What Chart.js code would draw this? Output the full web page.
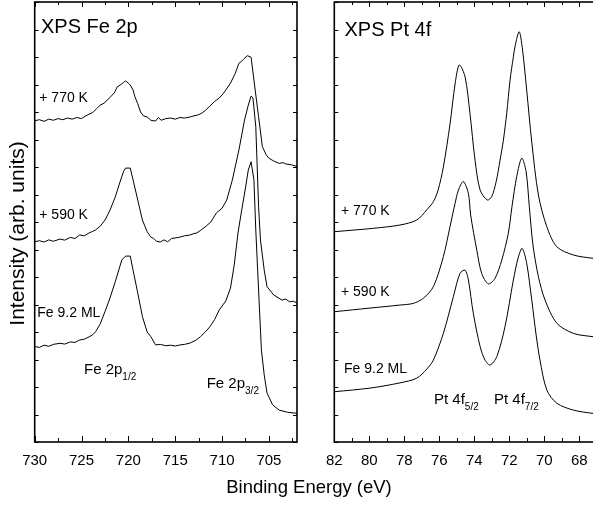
<!DOCTYPE html>
<html>
<head>
<meta charset="utf-8">
<script src="https://cdn.jsdelivr.net/npm/chart.js@4.4.1/dist/chart.umd.min.js"></script>
<style>
html,body{margin:0;padding:0;width:593px;height:507px;overflow:hidden;background:#fff;}
body{position:relative;font-family:"Liberation Sans",Arial,sans-serif;color:#000;}
canvas{position:absolute;top:0;}
.t{position:absolute;white-space:nowrap;line-height:1;font-family:"Liberation Sans",Arial,sans-serif;color:#000;}
.s{font-size:10px;position:relative;top:6px;}
</style>
</head>
<body>
<canvas id="fe" width="300" height="507" style="left:0"></canvas>
<canvas id="pt" width="310" height="507" style="left:300px"></canvas>

<div class="t" style="left:41px;top:15.6px;font-size:20px">XPS Fe 2p</div>
<div class="t" style="left:39.3px;top:90.1px;font-size:14px">+ 770 K</div>
<div class="t" style="left:39.3px;top:206.6px;font-size:14px">+ 590 K</div>
<div class="t" style="left:37.3px;top:304.6px;font-size:14px">Fe 9.2 ML</div>
<div class="t" style="left:84px;top:360.5px;font-size:15px">Fe 2p<span class="s">1/2</span></div>
<div class="t" style="left:206.7px;top:374.8px;font-size:15px">Fe 2p<span class="s">3/2</span></div>

<div class="t" style="left:344.5px;top:19px;font-size:20px">XPS Pt 4f</div>
<div class="t" style="left:341px;top:202.7px;font-size:14px">+ 770 K</div>
<div class="t" style="left:341px;top:284.1px;font-size:14px">+ 590 K</div>
<div class="t" style="left:344px;top:360.7px;font-size:14px">Fe 9.2 ML</div>
<div class="t" style="left:434px;top:391.3px;font-size:15px">Pt 4f<span class="s">5/2</span></div>
<div class="t" style="left:494px;top:391.3px;font-size:15px">Pt 4f<span class="s">7/2</span></div>

<div class="t" style="left:159px;top:478px;width:300px;text-align:center;font-size:18.5px">Binding Energy (eV)</div>
<div class="t" style="left:-108.6px;top:223px;width:250px;height:21px;text-align:center;font-size:21px;transform:rotate(-90deg)">Intensity (arb. units)</div>

<script>
// ---------- data: [binding energy (eV), intensity (arb. units, offset)] ----------
const fe770 = [[730.0,11.68],[729.5,11.72],[729.0,11.66],[728.5,11.74],[728.0,11.70],[727.5,11.76],[727.0,11.72],[726.5,11.78],[726.0,11.74],[725.5,11.80],[725.0,11.76],[724.6,11.85],[724.2,11.92],[723.8,11.98],[723.4,12.12],[723.0,12.25],[722.6,12.32],[722.2,12.45],[721.9,12.55],[721.5,12.70],[721.2,12.91],[720.8,13.00],[720.5,13.08],[720.3,13.13],[720.0,13.05],[719.8,12.98],[719.5,12.80],[719.3,12.55],[719.0,12.30],[718.7,12.00],[718.4,11.86],[718.0,11.82],[717.6,11.70],[717.1,11.67],[716.8,11.80],[716.5,11.70],[716.0,11.76],[715.5,11.78],[715.0,11.74],[714.5,11.80],[714.0,11.78],[713.4,11.82],[713.0,11.86],[712.6,11.89],[712.2,11.95],[711.8,12.05],[711.3,12.22],[710.8,12.38],[710.3,12.51],[709.9,12.66],[709.6,12.80],[709.1,13.05],[708.6,13.40],[708.2,13.77],[707.9,13.85],[707.7,13.92],[707.3,14.05],[706.9,13.99],[706.6,13.16],[706.1,11.83],[705.7,10.74],[705.3,10.45],[705.0,10.32],[704.5,10.22],[703.9,10.13],[703.5,10.16],[703.2,10.11],[702.6,10.08],[701.9,10.01]];
const fe590 = [[730.0,7.28],[729.5,7.32],[729.0,7.27],[728.5,7.35],[728.0,7.30],[727.3,7.38],[726.8,7.34],[726.2,7.44],[725.7,7.40],[725.2,7.53],[724.7,7.50],[724.2,7.60],[723.8,7.66],[723.5,7.71],[723.0,7.85],[722.5,8.07],[722.0,8.40],[721.4,8.91],[720.9,9.45],[720.5,9.85],[720.3,9.96],[719.8,9.96],[719.5,9.53],[719.0,8.80],[718.5,8.07],[718.0,7.65],[717.6,7.45],[717.3,7.40],[717.0,7.30],[716.6,7.27],[716.2,7.35],[715.8,7.28],[715.4,7.40],[715.0,7.42],[714.5,7.45],[714.0,7.50],[713.5,7.52],[713.0,7.58],[712.7,7.60],[712.2,7.72],[711.7,7.85],[711.2,8.00],[710.6,8.33],[710.0,8.50],[709.5,8.80],[708.9,9.53],[708.2,10.62],[707.6,11.71],[707.2,12.25],[706.9,12.58],[706.7,12.51],[706.4,11.47],[706.1,8.56],[705.9,7.35],[705.5,6.25],[705.2,5.65],[704.5,5.35],[703.6,5.16],[703.2,5.20],[702.8,5.10],[702.4,5.12],[701.9,5.04]];
const fe92ML = [[730.0,3.47],[729.5,3.44],[729.0,3.52],[728.5,3.48],[728.0,3.55],[727.3,3.59],[726.8,3.56],[726.2,3.64],[725.7,3.62],[725.2,3.71],[724.7,3.74],[724.2,3.82],[723.8,3.90],[723.5,4.01],[723.0,4.30],[722.5,4.74],[722.0,5.20],[721.4,5.83],[720.7,6.62],[720.3,6.76],[719.8,6.76],[719.5,6.25],[719.0,5.42],[718.5,4.56],[718.0,4.00],[717.6,3.83],[717.1,3.53],[716.6,3.55],[716.0,3.50],[715.5,3.52],[715.0,3.49],[714.5,3.53],[714.0,3.55],[713.4,3.60],[712.8,3.70],[712.3,3.83],[711.8,4.00],[711.3,4.19],[710.8,4.45],[710.3,4.80],[709.6,5.13],[709.1,5.60],[708.7,6.44],[708.3,7.60],[707.9,8.44],[707.5,9.24],[707.2,9.89],[706.9,10.19],[706.6,9.53],[706.4,7.71],[706.2,6.25],[706.0,4.80],[705.8,3.35],[705.5,2.44],[705.2,1.78],[704.6,1.35],[703.9,1.16],[703.0,1.08],[701.9,1.04]];

const pt770 = [[81.96,7.65],[79.77,7.77],[78.25,7.89],[77.29,8.07],[76.72,8.44],[76.34,8.74],[76.07,9.16],[75.77,10.0],[75.39,11.56],[75.10,13.02],[74.86,13.71],[74.53,13.28],[74.25,11.95],[73.96,10.25],[73.67,9.16],[73.26,8.80],[73.01,8.92],[72.76,9.45],[72.53,10.25],[72.34,10.98],[72.15,11.95],[71.96,13.16],[71.77,14.01],[71.67,14.40],[71.44,14.92],[71.26,14.33],[71.01,12.80],[70.72,10.91],[70.34,8.98],[69.86,7.83],[69.29,7.10],[68.34,6.80],[67.22,6.68],[66.65,6.65]];
const pt590 = [[81.96,4.74],[79.96,4.87],[78.25,4.98],[77.49,5.04],[76.91,5.23],[76.34,5.65],[75.77,6.74],[75.39,7.83],[75.10,8.68],[74.91,9.16],[74.63,9.47],[74.34,9.04],[74.21,8.25],[73.86,6.98],[73.58,6.13],[73.20,5.75],[72.82,5.95],[72.43,6.62],[72.06,7.59],[71.85,8.56],[71.58,9.65],[71.29,10.32],[71.04,9.82],[70.86,8.56],[70.65,7.16],[70.34,6.01],[69.96,5.16],[69.29,4.32],[68.34,3.95],[67.22,3.83],[66.65,3.80]];
const pt92ML = [[81.96,1.83],[79.96,1.96],[78.25,2.15],[77.29,2.32],[76.72,2.65],[76.34,2.98],[75.77,3.95],[75.20,5.28],[74.82,6.13],[74.53,6.25],[74.34,5.89],[74.06,4.68],[73.67,3.47],[73.39,2.98],[73.10,2.80],[72.72,3.10],[72.25,4.19],[71.77,5.89],[71.50,6.69],[71.27,7.04],[71.01,6.50],[70.72,5.16],[70.47,3.89],[70.25,2.98],[69.86,1.89],[69.29,1.41],[68.34,1.16],[67.22,1.04],[66.65,1.02]];

// tick labels
const feTicks = [730,725,720,715,710,705];
const feMinor = [727.5,722.5,717.5,712.5,707.5,702.5];
const ptTicks = [82,80,78,76,74,72,70,68];
const ptMinor = [81,79,77,75,73,71,69,67];
const yTicks = [0,1,2,3,4,5,6,7,8,9,10,11,12,13,14,15,16];

const toXY = arr => arr.map(p => ({x:p[0], y:p[1]}));

const frameTicks = {
  id:'frameTicks',
  afterDatasetsDraw(chart, args, opts){
    const {ctx, chartArea:a} = chart;
    const x = chart.scales.x, y = chart.scales.y;
    ctx.save();
    ctx.strokeStyle = '#000';
    ctx.lineWidth = 1;
    ctx.beginPath();
    opts.major.forEach(v=>{
      const p = Math.round(x.getPixelForValue(v))+0.5;
      ctx.moveTo(p,a.bottom); ctx.lineTo(p,a.bottom-6);
      ctx.moveTo(p,a.top); ctx.lineTo(p,a.top+5);
    });
    opts.minor.forEach(v=>{
      const p = Math.round(x.getPixelForValue(v))+0.5;
      ctx.moveTo(p,a.bottom); ctx.lineTo(p,a.bottom-4);
      ctx.moveTo(p,a.top); ctx.lineTo(p,a.top+3);
    });
    yTicks.forEach(v=>{
      const q = Math.round(y.getPixelForValue(v))+0.5;
      ctx.moveTo(a.left,q); ctx.lineTo(a.left+4,q);
      if (opts.right){ ctx.moveTo(a.right,q); ctx.lineTo(a.right-4,q); }
    });
    ctx.stroke();
    ctx.lineWidth = 1.6;
    ctx.strokeRect(a.left, a.top, a.right-a.left, a.bottom-a.top);
    ctx.restore();
  }
};

function makeChart(id, sets, xmin, xmax, ticks, minor, pad, tension, rightTicks){
  return new Chart(document.getElementById(id), {
    type:'line',
    data:{datasets: sets.map(s=>({data:toXY(s), borderColor:'#000', borderWidth:1, pointRadius:0, tension:tension, fill:false}))},
    options:{
      responsive:false, animation:false, events:[],
      layout:{padding:pad},
      plugins:{legend:{display:false}, tooltip:{enabled:false}, frameTicks:{major:ticks, minor:minor, right:rightTicks}},
      scales:{
        x:{type:'linear', reverse:true, min:xmin, max:xmax,
           afterBuildTicks:s=>{s.ticks = ticks.map(v=>({value:v}));},
           afterFit:s=>{s.height = 65;},
           border:{display:false},
           grid:{display:false, drawTicks:false},
           ticks:{padding:10, color:'#000', font:{family:'"Liberation Sans", Arial, sans-serif', size:15}, maxRotation:0, autoSkip:false}},
        y:{type:'linear', min:0, max:16, display:false}
      }
    },
    plugins:[frameTicks]
  });
}

makeChart('fe', [fe770, fe590, fe92ML], 702, 730, feTicks, feMinor, {left:34.7, right:3, top:2, bottom:0}, 0, true);
makeChart('pt', [pt770, pt590, pt92ML], 66.65, 82, ptTicks, ptMinor, {left:34.3, right:7, top:2, bottom:0}, 0.3, false);
</script>
</body>
</html>
